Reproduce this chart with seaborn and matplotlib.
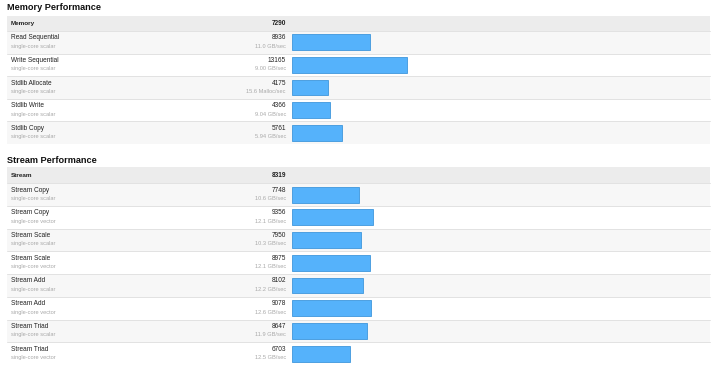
import matplotlib
matplotlib.use("Agg")
import matplotlib.pyplot as plt
import seaborn as sns
import pandas as pd
from matplotlib.patches import Rectangle

# ---- data ----
memory_title = "Memory Performance"
memory_header = "Memory"
memory_header_score = 7290
memory_names = ["Read Sequential", "Write Sequential", "Stdlib Allocate", "Stdlib Write", "Stdlib Copy"]
memory_subs = ["single-core scalar"] * 5
memory_scores = [8936, 13165, 4175, 4366, 5761]
memory_rates = ["11.0 GB/sec", "9.00 GB/sec", "15.6 Malloc/sec", "9.04 GB/sec", "5.94 GB/sec"]

stream_title = "Stream Performance"
stream_header = "Stream"
stream_header_score = 8319
stream_names = ["Stream Copy", "Stream Copy", "Stream Scale", "Stream Scale",
                "Stream Add", "Stream Add", "Stream Triad", "Stream Triad"]
stream_subs = ["single-core scalar", "single-core vector"] * 4
stream_scores = [7748, 9356, 7950, 8975, 8102, 9078, 8647, 6703]
stream_rates = ["10.6 GB/sec", "12.1 GB/sec", "10.3 GB/sec", "12.1 GB/sec",
                "12.2 GB/sec", "12.6 GB/sec", "11.9 GB/sec", "12.5 GB/sec"]

sns.set_theme(style="white")
plt.rcParams["font.family"] = ["Liberation Sans", "DejaVu Sans"]

W, H = 720, 374
fig = plt.figure(figsize=(W / 100, H / 100), dpi=100)
bg = fig.add_axes([0, 0, 1, 1])
bg.set_xlim(0, W)
bg.set_ylim(H, 0)
bg.axis("off")

LEFT, RIGHT = 7, 710
BAR_X0 = 292
XMAX = 48000
BAR_COLOR = "#55b2fb"
EDGE_COLOR = "#3f97dc"


def section(title, title_y, header, header_score, head_top, head_bot, row_h,
            names, subs, scores, rates):
    bg.text(LEFT, title_y, title, fontsize=6.6, fontweight="bold",
            va="center", ha="left", color="#111111")
    bg.add_patch(Rectangle((LEFT, head_top), RIGHT - LEFT, head_bot - head_top,
                           facecolor="#ececec", edgecolor="none"))
    hc = (head_top + head_bot) / 2
    bg.text(11, hc, header, fontsize=4.6, fontweight="bold", va="center", color="#222222")
    bg.text(286, hc, str(header_score), fontsize=4.7, fontweight="bold", va="center",
            ha="right", color="#222222")
    n = len(names)
    for i in range(n):
        top = head_bot + i * row_h
        fc = "#f7f7f7" if i % 2 == 0 else "#ffffff"
        bg.add_patch(Rectangle((LEFT, top), RIGHT - LEFT, row_h,
                               facecolor=fc, edgecolor="none"))
        bg.plot([LEFT, RIGHT], [top, top], color="#e2e2e2", lw=0.7)
        bg.text(11, top + 6.8, names[i], fontsize=4.7, va="center", color="#222222")
        bg.text(11, top + 15.2, subs[i], fontsize=4.1, va="center", color="#a8a8a8")
        bg.text(286, top + 6.8, str(scores[i]), fontsize=4.7, va="center", ha="right",
                color="#222222")
        bg.text(286, top + 15.2, rates[i], fontsize=4.1, va="center", ha="right",
                color="#a8a8a8")
    bottom = head_bot + n * row_h
    # bar axes
    ax = fig.add_axes([BAR_X0 / W, 1 - bottom / H, (RIGHT - BAR_X0) / W, (bottom - head_bot) / H])
    df = pd.DataFrame({"row": [f"{a} {b} {k}" for k, (a, b) in enumerate(zip(names, subs))],
                       "score": scores})
    sns.barplot(data=df, x="score", y="row", orient="h", ax=ax, width=0.7,
                color=BAR_COLOR, saturation=1, edgecolor=EDGE_COLOR, linewidth=0.6)
    ax.set_xlim(0, XMAX)
    ax.set_ylim(n - 0.5, -0.5)
    ax.patch.set_alpha(0)
    ax.axis("off")


section(memory_title, 7.5, memory_header, memory_header_score, 15.5, 31.0, 22.6,
        memory_names, memory_subs, memory_scores, memory_rates)
section(stream_title, 160.0, stream_header, stream_header_score, 167.3, 183.3, 22.72,
        stream_names, stream_subs, stream_scores, stream_rates)

fig.savefig("out.png", dpi=100)
